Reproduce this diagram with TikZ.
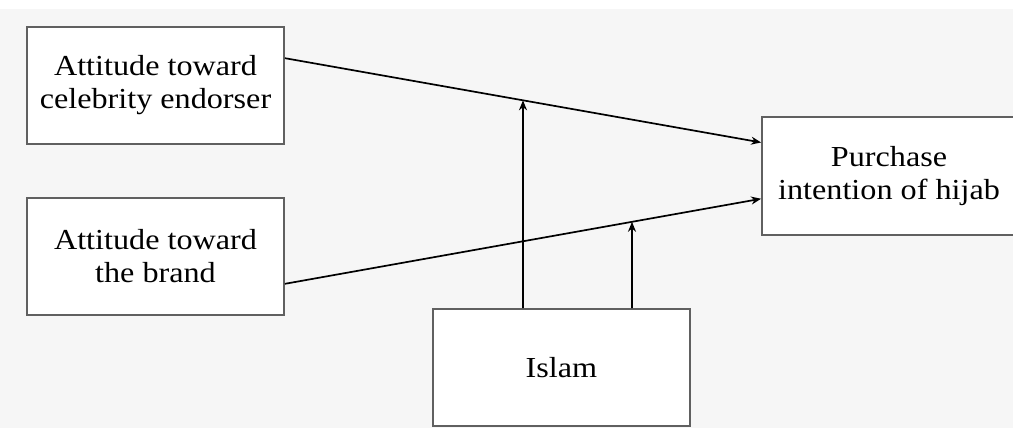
\documentclass[tikz,border=0pt]{standalone}
\usepackage{fontspec}
\setmainfont{Liberation Serif}[FakeStretch=1.11]
\usetikzlibrary{calc,intersections,arrows.meta}
\definecolor{bg}{HTML}{F6F6F6}
\definecolor{boxline}{HTML}{606060}
\begin{document}
\begin{tikzpicture}[x=1pt,y=-1pt,
  box/.style={draw=boxline,line width=1.8pt,fill=white,inner sep=0pt,
    font=\fontsize{29}{33}\selectfont,align=center},
  conn/.style={line width=1.7pt,draw=black,-{Stealth[length=10pt,width=8pt]}}]
\useasboundingbox (0,0) rectangle (1013,428);
\fill[bg] (0,0) rectangle (1013,428);
\fill[white] (0,0) rectangle (1013,9);
\node[box,minimum width=257pt,minimum height=117pt] (A) at (155.5,85.5) {Attitude toward\\celebrity endorser};
\node[box,minimum width=257pt,minimum height=117pt] (B) at (155.5,256.5) {Attitude toward\\the brand};
\node[box,minimum width=254pt,minimum height=118pt] (C) at (889,176) {Purchase\\intention of hijab};
\node[box,minimum width=257pt,minimum height=117pt] (I) at (561.5,367.5) {Islam};
\coordinate (a1) at ($(A.north east)!0.27!(A.south east)$);
\coordinate (c1) at ($(C.north west)!0.22!(C.south west)$);
\coordinate (b1) at ($(B.north east)!0.73!(B.south east)$);
\coordinate (c2) at ($(C.north west)!0.69!(C.south west)$);
\draw[conn,name path=la] (a1) -- (c1);
\draw[conn,name path=lb] (b1) -- (c2);
\coordinate (i1) at ($(I.north)+(-38.5,0)$);
\coordinate (i2) at ($(I.north)+(70.5,0)$);
\path[name path=v1] (i1) -- ++(0,-300);
\path[name path=v2] (i2) -- ++(0,-300);
\path[name intersections={of=la and v1,by=m1}];
\path[name intersections={of=lb and v2,by=m2}];
\draw[conn] (i1) -- (m1);
\draw[conn] (i2) -- (m2);
\end{tikzpicture}
\end{document}
